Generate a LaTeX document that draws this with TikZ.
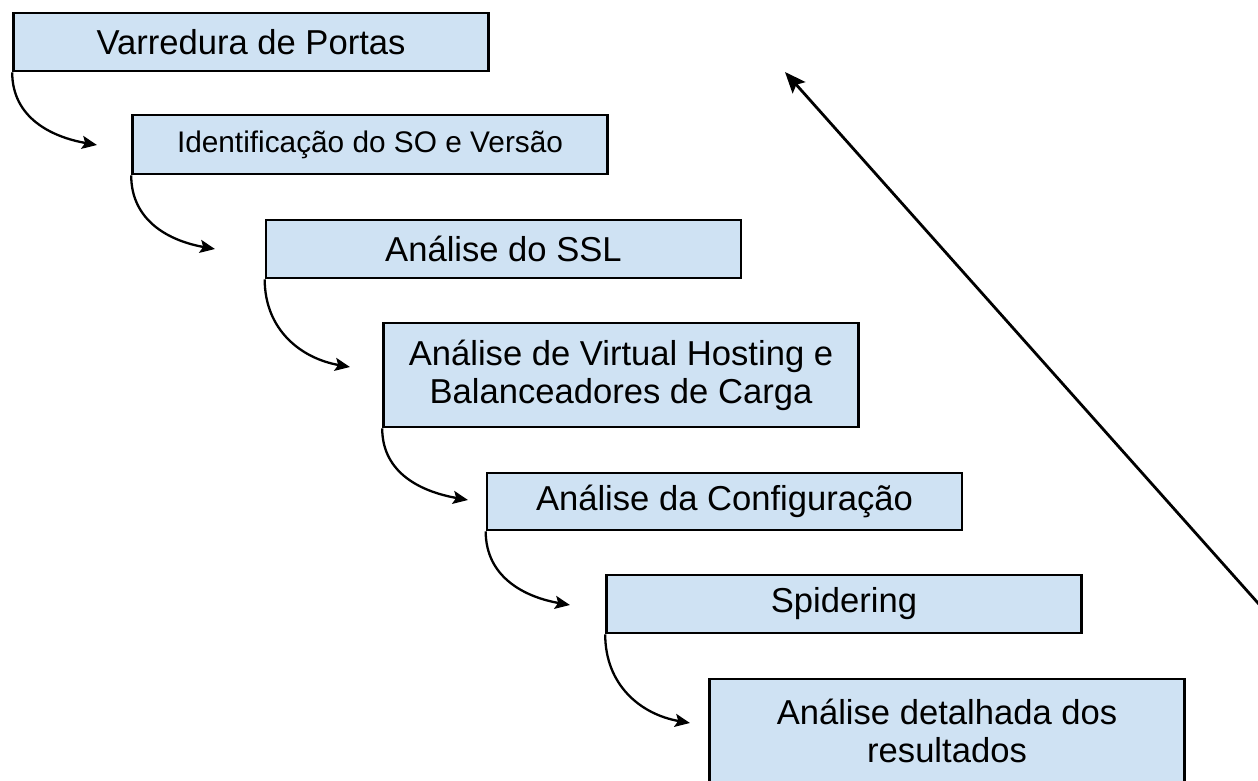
\documentclass[tikz,border=0pt]{standalone}
\usepackage{fontspec}
\setmainfont{Liberation Sans}
\usetikzlibrary{arrows.meta}
\definecolor{boxfill}{HTML}{CFE2F3}
\tikzset{
  stepbox/.style={draw=black, line width=2.6pt, fill=boxfill, inner sep=0pt,
    minimum width=475pt, align=center, font=\fontsize{34.6}{38}\selectfont},
  curvearrow/.style={draw=black, line width=2.3pt, -{Stealth[length=15pt,width=13pt,inset=3pt]}},
  longarrow/.style={draw=black, line width=2.8pt, -{Stealth[length=21pt,width=17pt,inset=4pt]}}
}
\begin{document}
\begin{tikzpicture}[x=1pt,y=-1pt]
\useasboundingbox (0,0) rectangle (1258,780);
\clip (0,0) rectangle (1258,780);
\fill[white] (0,0) rectangle (1258,780);
% boxes
\node[stepbox, minimum height=58pt] (b1) at (251,42) {Varredura de Portas};
\node[stepbox, minimum height=59pt, font=\fontsize{29.8}{34}\selectfont] (b2) at (370,144.5) {Identificação do SO e Versão};
\node[stepbox, minimum height=58pt] (b3) at (503.5,249) {Análise do SSL};
\node[stepbox, minimum height=104pt] (b4) at (621,375) {Análise de Virtual Hosting e\\Balanceadores de Carga};
\node[stepbox, minimum height=57pt] (b5) at (724.5,501.5) {Análise da Configuração};
\node[stepbox, minimum height=58pt] (b6) at (844,604) {Spidering};
\node[stepbox, minimum height=104pt] (b7) at (947,731) {Análise detalhada dos\\resultados};
% arrow end points
\coordinate (e1) at (97,145);
\coordinate (e2) at (215,249);
\coordinate (e3) at (350,367);
\coordinate (e4) at (468,500);
\coordinate (e5) at (570,605);
\coordinate (e6) at (690,723);
\draw[curvearrow] (b1.south west) to[out=-90,in=170,looseness=1.05] (e1);
\draw[curvearrow] (b2.south west) to[out=-90,in=170,looseness=1.05] (e2);
\draw[curvearrow] (b3.south west) to[out=-90,in=170,looseness=1.05] (e3);
\draw[curvearrow] (b4.south west) to[out=-90,in=170,looseness=1.05] (e4);
\draw[curvearrow] (b5.south west) to[out=-90,in=170,looseness=1.05] (e5);
\draw[curvearrow] (b6.south west) to[out=-90,in=170,looseness=1.05] (e6);
% long return arrow
\coordinate (ls) at (1290,639);
\coordinate (le) at (785,72);
\draw[longarrow] (ls) -- (le);
\end{tikzpicture}
\end{document}
